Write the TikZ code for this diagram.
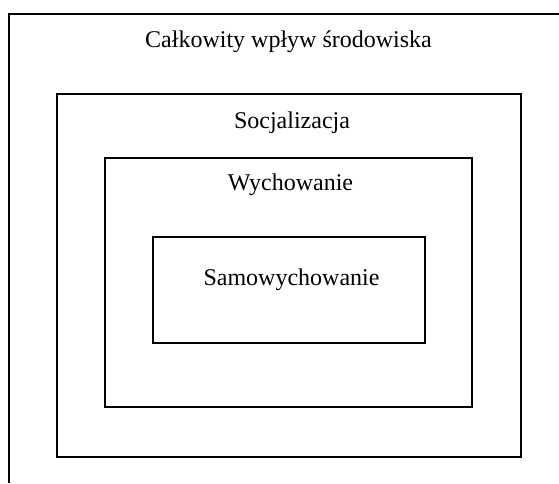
\documentclass[tikz,border=0pt]{standalone}
\usepackage{fontspec}
\setmainfont{Liberation Serif}
\begin{document}
\begin{tikzpicture}
[x=1pt,y=-1pt,
  boxdecorate/.style={shape=rectangle,draw,line width=2pt,inner sep=0pt},%
  textdecorate/.style={anchor=base,inner sep=0pt,font=\fontsize{24}{28}\selectfont}]
\useasboundingbox (0,0) rectangle (559,483);
%% outer frame (only left and top edges visible)
\coordinate (frameleft) at (9,483);
\coordinate (frametop) at (559,14);
\draw[line width=2pt] (frameleft) |- (frametop);
%% nested boxes
\foreach \nodename/\x/\y/\w/\h in {soc/289/275.25/464/363.5,
  wych/288.5/282/367/249, samo/289/290/272/106}
{
  \node (\nodename) at (\x,\y) [boxdecorate,minimum width=\w pt,minimum height=\h pt] {};
}
%% labels
\foreach \labelname/\x/\y/\txt in {envlabel/288.5/47.5/Całkowity wpływ środowiska,
  soclabel/292/128/Socjalizacja, wychlabel/290.5/190.7/Wychowanie,
  samolabel/291.5/285/Samowychowanie}
{
  \node (\labelname) at (\x,\y) [textdecorate] {\txt};
}
\end{tikzpicture}
\end{document}
